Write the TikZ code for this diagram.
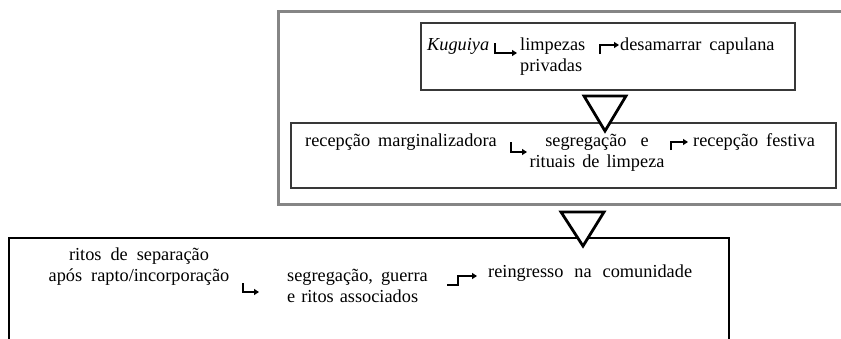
\documentclass[tikz,border=0pt]{standalone}
\usepackage{fontspec}
\setmainfont{Liberation Serif}
\usetikzlibrary{arrows.meta}
\begin{document}
\begin{tikzpicture}[x=1pt,y=-1pt,
  txt/.style={inner sep=0pt,anchor=base west,font=\fontsize{18.3}{21}\selectfont},
  ctxt/.style={inner sep=0pt,anchor=base,align=center,font=\fontsize{18.3}{21}\selectfont},
  outerbox/.style={draw=black!48,line width=3pt},
  innerbox/.style={draw=black!78,line width=1.6pt},
  mainbox/.style={draw=black,line width=2pt},
  downtri/.style={draw=black,fill=white,line width=2.8pt,line join=miter},
  glypharrow/.style={line width=2.6pt,-{Triangle[length=5pt,width=6pt]}}]
\useasboundingbox (0,0) rectangle (841,338);
% frames
\draw[outerbox] (278,11) rectangle (860,204);
\draw[innerbox] (421,23) rectangle (795,90);
\draw[innerbox] (291,123) rectangle (836,188);
\draw[mainbox] (9,350) -- (9,238) -- (729,238) -- (729,350);
% triangles
\draw[downtri] (584,96) -- (626,96) -- (605,131) -- cycle;
\draw[downtri] (561,212) -- (604,212) -- (583,246) -- cycle;
% box 1 text (multi-line nodes are placed by their last baseline)
\node[txt] (kug) at (427,50) {\itshape Kuguiya};
\node[txt,align=left] (limp) at (520,71) {limpezas\\privadas};
\node[txt] (desa) at (620,50) {desamarrar\hspace{8pt}capulana};
% box 2 text
\node[txt] (recm) at (305,146) {recepção\hspace{8pt}marginalizadora};
\node[ctxt] (segr) at (597,167) {segregação\hspace{14pt}e\\rituais\hspace{7pt}de\hspace{7pt}limpeza};
\node[txt] (recf) at (693,146) {recepção\hspace{8pt}festiva};
% bottom text
\node[ctxt] (ritos) at (139,281) {ritos\hspace{9pt}de\hspace{9pt}separação\\após\hspace{9pt}rapto/incorporação};
\node[txt,align=left] (segg) at (287,302) {segregação,\hspace{8pt}guerra\\e\hspace{6pt}ritos\hspace{6pt}associados};
\node[txt] (rein) at (488,277) {reingresso\hspace{11pt}na\hspace{11pt}comunidade};
% glyph arrows
\coordinate (b1s) at (495,43); \coordinate (b1e) at (517,53);
\draw[glypharrow] (b1s) |- (b1e);
\coordinate (c1s) at (600,54); \coordinate (c1e) at (619,45);
\draw[glypharrow] (c1s) |- (c1e);
\coordinate (b2s) at (511,142); \coordinate (b2e) at (527,152);
\draw[glypharrow] (b2s) |- (b2e);
\coordinate (c2s) at (671,150); \coordinate (c2e) at (688,142);
\draw[glypharrow] (c2s) |- (c2e);
\coordinate (b3s) at (243,283); \coordinate (b3e) at (259,292);
\draw[glypharrow] (b3s) |- (b3e);
\coordinate (c3s) at (447,285); \coordinate (c3m) at (458,276); \coordinate (c3e) at (477,276);
\draw[glypharrow] (c3s) -| (c3m) -- (c3e);
\end{tikzpicture}
\end{document}
